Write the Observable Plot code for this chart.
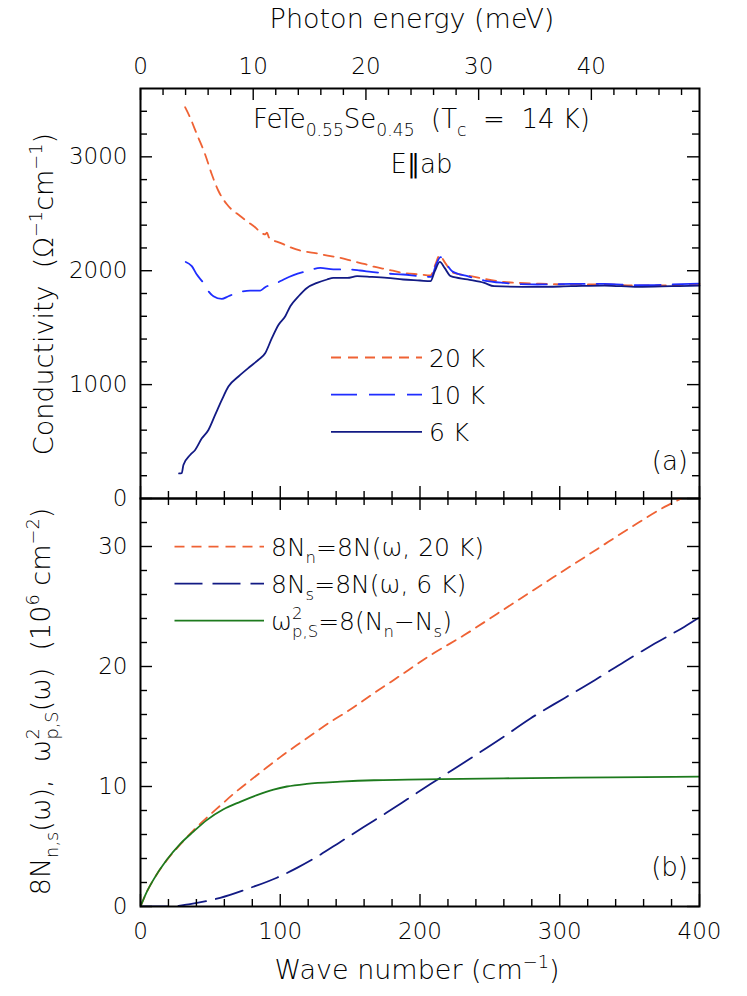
<!DOCTYPE html>
<html><head><meta charset="utf-8">
<script src="https://cdn.jsdelivr.net/npm/d3@7"></script>
<script src="https://cdn.jsdelivr.net/npm/@observablehq/plot@0.6"></script>
<style>
body{margin:0;background:#fff;}
#wrap{width:747px;}
#wrap svg{display:block;overflow:visible;}
</style></head><body><div id="wrap"></div>
<script>
// ---------- data: panel (a) optical conductivity ----------
const wn20 = [31.9,35.5,40.3,46.2,51.0,55.8,61.8,71.3,80.9,89.2,90.5,92,100,114,124,136,143,152,160,167,176.5,188,200,207.5,211,214,218,224,234,246,260,284,308,332,356,380,400];
const sig20 = [3436,3345,3199,3023,2847,2700,2583,2480,2392,2319,2335,2290,2245,2178,2157,2128,2113,2084,2060,2035,2011,1981,1967,1958,2055,2134,2069,1981,1958,1928,1902,1887,1879,1879,1870,1873,1884];
const wn10 = [32.4,36.7,40.3,45.0,48.6,52.2,58.2,62.9,71.3,78.5,85.7,89.2,97.6,102.4,109.5,119,128.7,138,148,157,165,176.5,188,200,208,211.6,214.7,218.3,223,234,246,260,284,308,332,356,380,400];
const sig10 = [2077,2040,1966,1893,1820,1776,1752,1776,1813,1826,1826,1855,1893,1923,1961,1996,2025,2011,2011,2002,1990,1975,1967,1952,1946,2055,2119,2069,1996,1952,1914,1893,1879,1884,1884,1873,1879,1887];
const wn6 = [27.6,29.5,30.7,35.5,39.1,43.9,48.6,53.4,58.2,62.9,70.1,78.5,84.4,89.2,94.0,98.8,103.6,107.2,113.1,119.1,126.3,133.5,138,148,155,165,176.5,188,200,207.5,210.6,214.2,217.6,222,234,246,253,284,308,332,356,380,400];
const sig6 = [220,222,294,382,426,528,602,734,866,983,1071,1159,1218,1276,1408,1526,1600,1688,1776,1849,1893,1923,1937,1937,1952,1946,1937,1923,1914,1908,1996,2078,2025,1952,1923,1893,1864,1858,1864,1870,1858,1864,1870];

// ---------- data: panel (b) spectral weight (10^6 cm^-2) ----------
const wnNn = [0,4,9.2,18.8,28.3,37.9,47.4,57,66.5,78.5,90.5,100,112,124,136,148,160,172,181,207.5,231.4,255.3,279,303,327,351,375,388];
const Nn = [0,1.1,2.22,3.85,5.15,6.35,7.4,8.4,9.38,10.5,11.6,12.45,13.45,14.43,15.39,16.25,17.2,18.17,18.86,20.94,22.6,24.4,26.2,28.0,29.8,31.6,33.3,34.05];
const wnNs = [0,21,35.5,57,78.5,97.6,112,126.3,143,159.7,176.5,190.8,207.5,213.5,236,258,279,303,325,346,368,389,400];
const Ns = [0,0,0.2,0.72,1.55,2.4,3.22,4.15,5.38,6.62,7.85,8.93,10.2,10.65,12.33,14.0,15.67,17.34,18.86,20.38,21.91,23.3,24.1];
const wnWp = [0,4,9.2,18.8,28.3,37.9,47.4,59.4,71.3,83.3,95.2,104.8,119,143,167,191,215,260,310,360,400];
const Wp = [0,1.1,2.22,3.89,5.2,6.24,7.2,8.1,8.72,9.28,9.74,10.0,10.22,10.4,10.52,10.57,10.62,10.68,10.74,10.78,10.82];

// ---------- ticks ----------
const xMajor = [0,100,200,300,400];
const xMinor = d3.range(20,400,20).filter(v => v % 100);
const meVMajor = [0,10,20,30,40];
const meVMinor = [2,4,6,8,12,14,16,18,22,24,26,28,32,34,36,38,42,44,46,48];
const CM_PER_MEV = 8.06554;
const yaMajor = [0,1000,2000,3000];
const yaMinor = d3.range(200,3600,200).filter(v => v % 1000);
const ybMajor = [0,10,20,30];
const ybMinor = d3.range(2,34,2).filter(v => v % 10);

const FONT = "DejaVu Sans";
const WEIGHT = 200;
const C20 = "#ef6234", C10 = "#1f2dff", C6 = "#121a84", CG = "#1d7a1d";
const W = 747, ML = 140, MR = 48;
const innerW = W - ML - MR;

const rows = (xs, ys) => xs.map((x, i) => ({x, y: ys[i]}));

function tickRules(innerH, xs, xsMin, sides) {
  const out = [];
  for (const side of sides) {
    const key = side === "bottom" ? "insetTop" : "insetBottom";
    out.push(Plot.ruleX(xs, {x: d => d, [key]: innerH - 12, stroke: "black", strokeWidth: 1.4}));
    out.push(Plot.ruleX(xsMin, {x: d => d, [key]: innerH - 7, stroke: "black", strokeWidth: 1.4}));
  }
  return out;
}
function yRules(ys, ysMin) {
  const out = [];
  for (const key of ["insetRight", "insetLeft"]) {
    out.push(Plot.ruleY(ys, {y: d => d, [key]: innerW - 12, stroke: "black", strokeWidth: 1.4}));
    out.push(Plot.ruleY(ysMin, {y: d => d, [key]: innerW - 7, stroke: "black", strokeWidth: 1.4}));
  }
  return out;
}

const style = {fontFamily: FONT, fontSize: "23px", fontWeight: WEIGHT, background: "white", color: "black"};
const fmt = d => String(d);

// ---------- panel (a) ----------
const HA = 498, MTA = 88, innerHA = HA - MTA;
const plotA = Plot.plot({
  width: W, height: HA, marginLeft: ML, marginRight: MR, marginTop: MTA, marginBottom: 0,
  style,
  x: {domain: [0, 400]},
  y: {domain: [0, 3600]},
  marks: [
    Plot.line(rows(wn20, sig20), {x: "x", y: "y", stroke: C20, strokeWidth: 1.8, strokeDasharray: "10,7", curve: "monotone-x"}),
    Plot.line(rows(wn10, sig10), {x: "x", y: "y", stroke: C10, strokeWidth: 1.8, strokeDasharray: "26,12", curve: "monotone-x"}),
    Plot.line(rows(wn6, sig6), {x: "x", y: "y", stroke: C6, strokeWidth: 1.8, curve: "monotone-x"}),
    ...tickRules(innerHA, xMajor, xMinor, ["bottom"]),
    ...tickRules(innerHA, meVMajor.map(m => m * CM_PER_MEV), meVMinor.map(m => m * CM_PER_MEV), ["top"]),
    ...yRules(yaMajor, yaMinor),
    Plot.axisX(meVMajor.map(m => m * CM_PER_MEV), {anchor: "top", tickSize: 0, tickPadding: 15, label: null, tickFormat: d => String(Math.round(d / CM_PER_MEV))}),
    Plot.axisY(yaMajor, {anchor: "left", tickSize: 0, tickPadding: 13, label: null, tickFormat: fmt}),
    Plot.frame({stroke: "black", strokeWidth: 2})
  ]
});

// ---------- panel (b) ----------
const HB = 498, MBB = 90, innerHB = HB - MBB;
const plotB = Plot.plot({
  width: W, height: HB, marginLeft: ML, marginRight: MR, marginTop: 0, marginBottom: MBB,
  style,
  x: {domain: [0, 400]},
  y: {domain: [0, 34]},
  marks: [
    Plot.line(rows(wnNn, Nn), {x: "x", y: "y", stroke: C20, strokeWidth: 1.8, strokeDasharray: "10,7", curve: "monotone-x", clip: true}),
    Plot.line(rows(wnNs, Ns), {x: "x", y: "y", stroke: C6, strokeWidth: 1.8, strokeDasharray: "28,10", curve: "monotone-x", clip: true}),
    Plot.line(rows(wnWp, Wp), {x: "x", y: "y", stroke: CG, strokeWidth: 1.8, curve: "monotone-x", clip: true}),
    ...tickRules(innerHB, xMajor, xMinor, ["top", "bottom"]),
    ...yRules(ybMajor, ybMinor),
    Plot.axisX(xMajor, {anchor: "bottom", tickSize: 0, tickPadding: 16, label: null, tickFormat: fmt}),
    Plot.axisY(ybMajor, {anchor: "left", tickSize: 0, tickPadding: 13, label: null, tickFormat: fmt}),
    Plot.frame({stroke: "black", strokeWidth: 2})
  ]
});

const wrap = document.getElementById("wrap");
wrap.appendChild(plotA);
wrap.appendChild(plotB);

// ---------- rich text helper ----------
function rich(svg, {x, y, rotate = 0, anchor = "start", size = 25, parts}) {
  const t = d3.select(svg).append("text")
    .attr("transform", `translate(${x},${y})` + (rotate ? ` rotate(${rotate})` : ""))
    .attr("text-anchor", anchor)
    .attr("font-family", FONT).attr("font-size", size).attr("font-weight", WEIGHT)
    .attr("fill", "black").style("white-space", "pre");
  let shift = 0, prev = null;
  for (const p of parts) {
    const [txt, kind] = Array.isArray(p) ? p : [p, "n"];
    let target = 0, fs = size, dx = 0;
    if (kind === "sub") { target = 0.3 * size; fs = 0.66 * size; }
    else if (kind === "sup") { target = -0.42 * size; fs = 0.66 * size; }
    else if (kind === "under") { target = 0.3 * size; fs = 0.66 * size; dx = -prev.node().getComputedTextLength(); }
    const ts = t.append("tspan").attr("dy", target - shift).attr("font-size", fs).text(txt);
    if (dx) ts.attr("dx", dx);
    shift = target; prev = ts;
  }
  return t;
}
function legendLine(svg, x1, x2, y, color, dash) {
  d3.select(svg).append("line").attr("x1", x1).attr("x2", x2).attr("y1", y).attr("y2", y)
    .attr("stroke", color).attr("stroke-width", 1.8).attr("stroke-dasharray", dash || null);
}

// panel (a) texts
rich(plotA, {x: 412, y: 28, anchor: "middle", size: 27, parts: ["Photon energy (meV)"]});
rich(plotA, {x: 53, y: 294, rotate: -90, anchor: "middle", size: 27,
  parts: ["Conductivity  (Ω", ["−1", "sup"], "cm", ["−1", "sup"], ")"]});
rich(plotA, {x: 421.5, y: 128, anchor: "middle", size: 26,
  parts: ["FeTe", ["0.55", "sub"], "Se", ["0.45", "sub"], "  (T", ["c", "sub"], "  =  14 K)"]});
rich(plotA, {x: 421.5, y: 173, anchor: "middle", size: 26, parts: ["E∥ab"]});
const legA = [["20 K", C20, "10,7"], ["10 K", C10, "26,12"], ["6 K", C6, null]];
legA.forEach(([lab, c, dash], i) => {
  const y = 357.5 + i * 37.2;
  legendLine(plotA, 331, 422, y, c, dash);
  rich(plotA, {x: 429, y: y + 9.5, size: 25, parts: [lab]});
});
rich(plotA, {x: 688, y: 470, anchor: "end", size: 26, parts: ["(a)"]});

// panel (b) texts
rich(plotB, {x: 417, y: 481, anchor: "middle", size: 27, parts: ["Wave number (cm", ["−1", "sup"], ")"]});
rich(plotB, {x: 50, y: 203.5, rotate: -90, anchor: "middle", size: 27,
  parts: ["8N", ["n,s", "sub"], "(ω),  ω", ["2", "sup"], ["p,S", "under"], "(ω)  (10", ["6", "sup"], " cm", ["−2", "sup"], ")"]});
const legB = [
  [["8N", ["n", "sub"], "=8N(ω, 20 K)"], C20, "10,7"],
  [["8N", ["s", "sub"], "=8N(ω, 6 K)"], C6, "28,10"],
  [["ω", ["2", "sup"], ["p,S", "under"], "=8(N", ["n", "sub"], "−N", ["s", "sub"], ")"], CG, null]
];
legB.forEach(([parts, c, dash], i) => {
  const y = 48.7 + i * 37;
  legendLine(plotB, 174.5, 264, y, c, dash);
  rich(plotB, {x: 271, y: y + 9, size: 25, parts});
});
rich(plotB, {x: 688, y: 378, anchor: "end", size: 26, parts: ["(b)"]});
</script></body></html>
